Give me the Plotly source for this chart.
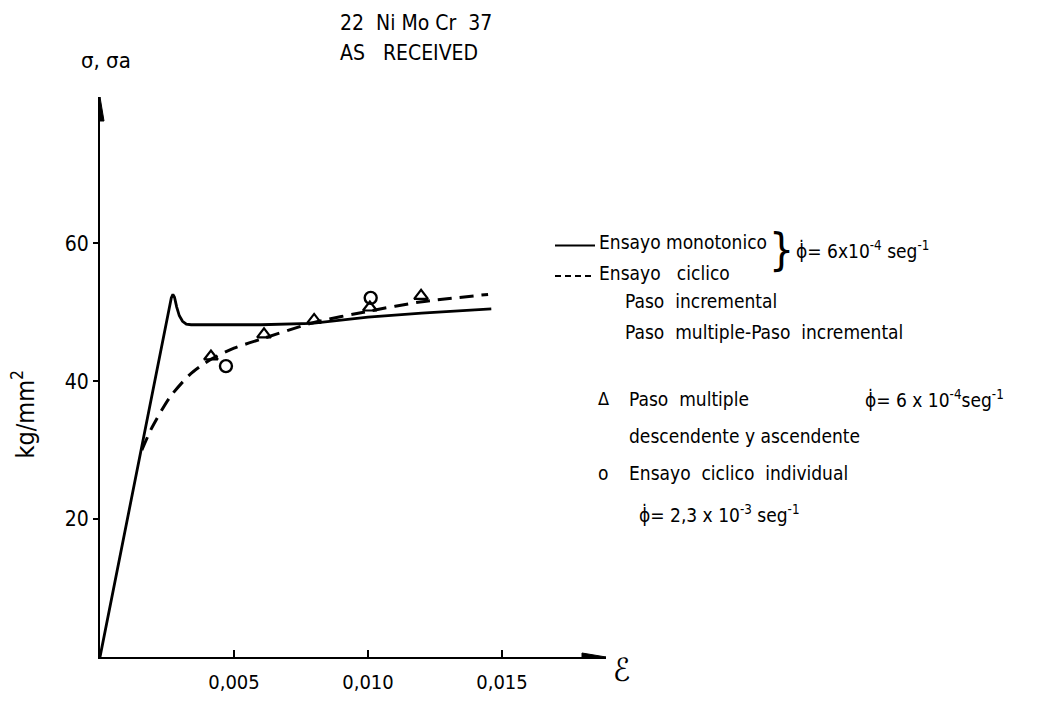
import plotly.graph_objects as go

# ---- data ----
mono_strain = [0, 0.00245, 0.00258, 0.00266, 0.00272, 0.00278, 0.00286, 0.00296, 0.00308, 0.00322, 0.0034,
               0.0040, 0.0060, 0.0079, 0.0100, 0.0120, 0.0146]
mono_stress = [0, 47.6, 50.6, 52.1, 52.6, 52.2, 50.8, 49.5, 48.7, 48.3, 48.2,
               48.2, 48.2, 48.4, 49.3, 49.9, 50.5]

cyc_strain = [0.00156, 0.00194, 0.00261, 0.00336, 0.0041, 0.0050, 0.00608, 0.00795, 0.01007, 0.01194, 0.01448]
cyc_stress = [30.0, 33.3, 37.7, 41.0, 43.1, 44.8, 46.2, 48.5, 50.2, 51.5, 52.6]

tri_strain = [0.00414, 0.00612, 0.00799, 0.01007, 0.01198]
tri_stress = [43.6, 46.8, 48.9, 50.7, 52.4]

circ_strain = [0.0047, 0.0101]
circ_stress = [42.2, 52.1]

x_tick_vals = [0.005, 0.010, 0.015]
x_tick_text = ["0,005", "0,010", "0,015"]
y_tick_vals = [20, 40, 60]
y_tick_text = ["20", "40", "60"]

FONT = "DejaVu Sans Condensed, Liberation Sans Narrow, DejaVu Sans, sans-serif"

fig = go.Figure()
fig.add_trace(go.Scatter(x=mono_strain, y=mono_stress, mode="lines",
                         line=dict(color="black", width=2.8),
                         showlegend=False, cliponaxis=False))
fig.add_trace(go.Scatter(x=cyc_strain, y=cyc_stress, mode="lines",
                         line=dict(color="black", width=3, dash="14px,8px", shape="spline", smoothing=0.7),
                         showlegend=False, cliponaxis=False))
fig.add_trace(go.Scatter(x=tri_strain, y=tri_stress, mode="markers",
                         marker=dict(symbol="triangle-up-open", size=12, color="black", line=dict(width=2.2, color="black")),
                         showlegend=False, cliponaxis=False))
fig.add_trace(go.Scatter(x=circ_strain, y=circ_stress, mode="markers",
                         marker=dict(symbol="circle-open", size=12, color="black", line=dict(width=2.4, color="black")),
                         showlegend=False, cliponaxis=False))

L, R, T, B = 100, 456, 97, 43
W, H = 1062, 706
PW, PH = W - L - R, H - T - B


def px(x):
    return (x - L) / PW


def py(y):
    return (H - B - y) / PH


annos = []


def text(x, y, s, size=19, xanchor="left", angle=0):
    annos.append(dict(x=px(x), y=py(y), xref="paper", yref="paper", text=s, showarrow=False,
                      xanchor=xanchor, yanchor="middle", textangle=angle,
                      font=dict(family=FONT, size=size, color="black")))


NB = "\u00a0"
phi = "\u03d5\u0307"
# title
text(338, 22, "22" + NB * 2 + "Ni Mo Cr" + NB * 2 + "37", size=21)
text(338, 53, "AS" + NB * 3 + "RECEIVED", size=21)
# axis labels
text(106, 60, "\u03c3, \u03c3a", size=22, xanchor="center")
text(24, 418, "kg/mm<sup>2</sup>", size=25, xanchor="center", angle=-90)
text(621, 676, "\u2130", size=32, xanchor="center")
# legend
text(597, 244, "Ensayo" + NB + "monotonico")
text(597, 275, "Ensayo" + NB * 3 + "ciclico")
text(781, 251, "}", size=44, xanchor="center")
text(794, 252, phi + "= 6x10<sup>-4</sup> seg<sup>-1</sup>")
text(623, 303, "Paso" + NB * 2 + "incremental")
text(623, 335, "Paso" + NB * 2 + "multiple-Paso" + NB * 2 + "incremental")
text(603, 402, "\u0394", size=18, xanchor="center")
text(627, 402, "Paso" + NB * 2 + "multiple")
text(863, 402, phi + "= 6 x 10<sup>-4</sup>seg<sup>-1</sup>")
text(627, 440, "descendente y ascendente")
text(603, 477, "o", size=19, xanchor="center")
text(627, 477, "Ensayo" + NB * 2 + "ciclico" + NB * 2 + "individual")
text(637, 518, phi + "= 2,3 x 10<sup>-3</sup> seg<sup>-1</sup>")

x_end = 0.01888
y_end = (H - B - T) / 6.967

shapes = [
    # legend line samples
    dict(type="line", xref="paper", yref="paper", x0=px(555), x1=px(595), y0=py(247), y1=py(247),
         line=dict(color="black", width=2)),
    dict(type="line", xref="paper", yref="paper", x0=px(555), x1=px(595), y0=py(278), y1=py(278),
         line=dict(color="black", width=2, dash="6px,4px")),
    # axis overshoot past origin
    dict(type="line", xref="x", yref="y", x0=-0.00063, x1=0, y0=0, y1=0, line=dict(color="black", width=2)),
    dict(type="line", xref="x", yref="y", x0=0, x1=0, y0=-2.0, y1=0, line=dict(color="black", width=2)),
    # arrowheads
    dict(type="path", xref="x", yref="y", xsizemode="pixel", ysizemode="pixel", xanchor=x_end, yanchor=0,
         path="M 0 0 L -24 -4 L -24 4 Z", fillcolor="black", line=dict(color="black", width=1)),
    dict(type="path", xref="x", yref="y", xsizemode="pixel", ysizemode="pixel", xanchor=0, yanchor=y_end,
         path="M 0 0 L -4 -24 L 4 -24 Z", fillcolor="black", line=dict(color="black", width=1)),
]

fig.update_layout(
    width=W, height=H, autosize=False,
    margin=dict(l=L, r=R, t=T, b=B, pad=0),
    paper_bgcolor="white", plot_bgcolor="white",
    showlegend=False,
    font=dict(family=FONT, color="black"),
    annotations=annos, shapes=shapes,
    xaxis=dict(range=[0, x_end], showgrid=False, zeroline=False, showline=True, linewidth=2, linecolor="black",
               ticks="inside", ticklen=7, tickwidth=2, tickcolor="black",
               tickvals=x_tick_vals, ticktext=x_tick_text,
               tickfont=dict(family=FONT, size=20, color="black"),
               ticklabelstandoff=6),
    yaxis=dict(range=[0, y_end], showgrid=False, zeroline=False, showline=True, linewidth=2, linecolor="black",
               ticks="outside", ticklen=5, tickwidth=2, tickcolor="black",
               tickvals=y_tick_vals, ticktext=y_tick_text,
               tickfont=dict(family=FONT, size=21, color="black"),
               ticklabelstandoff=0),
)

fig.write_html("out.html")
